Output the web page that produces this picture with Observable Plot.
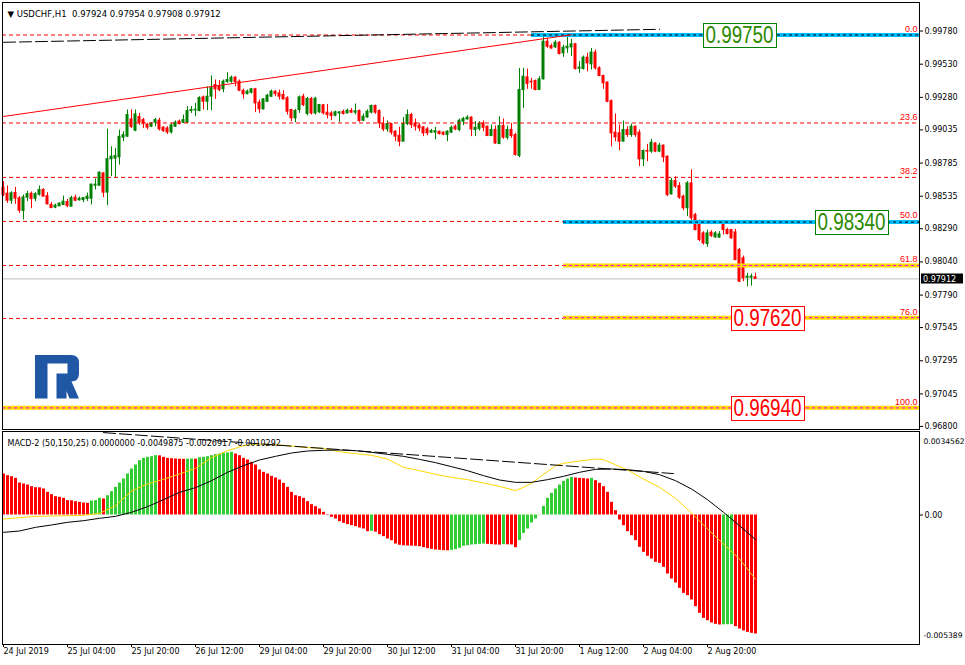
<!DOCTYPE html>
<html>
<head>
<meta charset="utf-8">
<script src="https://cdn.jsdelivr.net/npm/d3@7"></script>
<script src="https://cdn.jsdelivr.net/npm/@observablehq/plot@0.6"></script>
<style>
html, body { margin: 0; padding: 0; background: #fff; }
#wrap { position: relative; width: 965px; height: 665px; overflow: hidden; background: #fff; }
#main { position: absolute; left: 0; top: 0; }
#macd { position: absolute; left: 0; top: 430px; }
</style>
</head>
<body>
<div id="wrap"><div id="main"></div><div id="macd"></div></div>
<script>
// ---------- DATA ----------
const titleText = "▼ USDCHF,H1  0.97924 0.97954 0.97908 0.97912";
const macdTitle = "MACD-2 (50,150,25) 0.0000000 -0.0049875 -0.0026917 -0.0010292";

// hourly candles [open, high, low, close], 24 Jul 12:00 -> 5 Aug 08:00
const candles = [
[0.98599,0.98645,0.98532,0.98544],[0.98554,0.98612,0.98481,0.98501],[0.98501,0.98569,0.98474,0.98557],[0.98559,0.98602,0.98474,0.98516],
[0.98519,0.98532,0.98406,0.98426],[0.98423,0.98544,0.98356,0.98526],[0.98524,0.98572,0.98494,0.98551],[0.98554,0.98567,0.98441,0.98514],
[0.98516,0.98562,0.98494,0.98551],[0.98546,0.98612,0.98536,0.98582],[0.98582,0.98592,0.98529,0.98532],[0.98536,0.98562,0.98469,0.98474],
[0.98469,0.98489,0.98441,0.98446],[0.98449,0.98476,0.98441,0.98464],[0.98459,0.98486,0.98456,0.98479],[0.98469,0.98536,0.98466,0.98494],
[0.98491,0.98511,0.98449,0.98461],[0.98456,0.98536,0.98456,0.98521],[0.98524,0.98544,0.98494,0.98501],[0.98504,0.98529,0.98499,0.98516],
[0.98506,0.98526,0.98486,0.98521],[0.98514,0.98559,0.98496,0.98532],[0.98516,0.98627,0.98469,0.98622],[0.98614,0.98665,0.98582,0.98622],
[0.98614,0.98720,0.98612,0.98712],[0.98707,0.98712,0.98524,0.98562],[0.98562,0.99041,0.98464,0.98815],[0.98813,0.98908,0.98682,0.98833],
[0.98818,0.98896,0.98670,0.98838],[0.98828,0.99034,0.98770,0.98983],[0.98976,0.99021,0.98946,0.98996],[0.98984,0.99185,0.98979,0.99147],
[0.99114,0.99185,0.99046,0.99056],[0.99029,0.99185,0.99021,0.99152],[0.99132,0.99159,0.99069,0.99089],[0.99109,0.99122,0.99046,0.99079],
[0.99074,0.99084,0.99034,0.99052],[0.99059,0.99089,0.99052,0.99084],[0.99089,0.99122,0.99059,0.99109],[0.99104,0.99122,0.99026,0.99039],
[0.99052,0.99059,0.99016,0.99026],[0.99046,0.99059,0.99001,0.99016],[0.99016,0.99084,0.99004,0.99069],[0.99059,0.99102,0.99054,0.99089],
[0.99097,0.99109,0.99072,0.99079],[0.99089,0.99147,0.99084,0.99109],[0.99089,0.99210,0.99084,0.99177],[0.99177,0.99210,0.99159,0.99185],
[0.99182,0.99235,0.99134,0.99187],[0.99177,0.99285,0.99172,0.99275],[0.99280,0.99290,0.99185,0.99247],[0.99247,0.99360,0.99180,0.99285],
[0.99285,0.99441,0.99180,0.99350],[0.99373,0.99411,0.99265,0.99341],[0.99360,0.99406,0.99323,0.99335],[0.99341,0.99411,0.99315,0.99398],
[0.99396,0.99466,0.99386,0.99411],[0.99398,0.99441,0.99386,0.99428],[0.99428,0.99436,0.99360,0.99396],[0.99398,0.99411,0.99323,0.99330],
[0.99330,0.99341,0.99268,0.99303],[0.99305,0.99335,0.99298,0.99323],[0.99315,0.99348,0.99305,0.99341],[0.99341,0.99348,0.99165,0.99235],
[0.99240,0.99260,0.99159,0.99190],[0.99190,0.99270,0.99185,0.99265],[0.99247,0.99303,0.99242,0.99293],[0.99285,0.99335,0.99280,0.99323],
[0.99323,0.99330,0.99285,0.99305],[0.99310,0.99335,0.99260,0.99285],[0.99298,0.99330,0.99260,0.99265],[0.99273,0.99285,0.99147,0.99172],
[0.99185,0.99190,0.99097,0.99122],[0.99122,0.99190,0.99089,0.99177],[0.99185,0.99290,0.99159,0.99280],[0.99285,0.99303,0.99210,0.99222],
[0.99155,0.99280,0.99140,0.99268],[0.99268,0.99280,0.99147,0.99159],[0.99159,0.99280,0.99147,0.99270],[0.99167,0.99227,0.99159,0.99222],
[0.99220,0.99227,0.99147,0.99159],[0.99165,0.99227,0.99117,0.99147],[0.99159,0.99172,0.99104,0.99139],[0.99142,0.99177,0.99134,0.99167],
[0.99159,0.99172,0.99092,0.99167],[0.99170,0.99185,0.99147,0.99155],[0.99159,0.99192,0.99155,0.99180],[0.99177,0.99197,0.99159,0.99165],
[0.99165,0.99230,0.99147,0.99175],[0.99177,0.99185,0.99092,0.99102],[0.99104,0.99155,0.99097,0.99134],[0.99129,0.99185,0.99122,0.99172],
[0.99165,0.99222,0.99155,0.99215],[0.99215,0.99222,0.99152,0.99165],[0.99177,0.99185,0.99046,0.99084],[0.99079,0.99129,0.99021,0.99039],
[0.99039,0.99102,0.99016,0.99079],[0.99079,0.99084,0.98996,0.99014],[0.99021,0.99029,0.98946,0.98984],[0.98991,0.99054,0.98908,0.98946],
[0.98946,0.99129,0.98946,0.99079],[0.99079,0.99185,0.99067,0.99147],[0.99147,0.99160,0.99046,0.99072],[0.99084,0.99117,0.99026,0.99059],
[0.99067,0.99084,0.99021,0.99046],[0.99054,0.99059,0.98984,0.99009],[0.99039,0.99054,0.98991,0.99009],[0.99014,0.99039,0.99009,0.99026],
[0.99014,0.99054,0.98959,0.99026],[0.99021,0.99026,0.98996,0.99004],[0.99014,0.99019,0.98991,0.98999],[0.98996,0.99029,0.98946,0.99021],
[0.99014,0.99064,0.99009,0.99051],[0.99059,0.99072,0.99029,0.99039],[0.99034,0.99117,0.99021,0.99104],[0.99097,0.99129,0.99067,0.99117],
[0.99114,0.99142,0.99109,0.99127],[0.99127,0.99134,0.98984,0.99039],[0.99034,0.99097,0.98984,0.99051],[0.99041,0.99097,0.99026,0.99079],
[0.99084,0.99102,0.99021,0.99051],[0.99059,0.99064,0.98984,0.98989],[0.98989,0.99072,0.98984,0.99034],[0.99034,0.99064,0.98926,0.98933],
[0.98928,0.99134,0.98928,0.99064],[0.99064,0.99117,0.98964,0.98976],[0.98976,0.99064,0.98959,0.99034],[0.99034,0.99084,0.98971,0.98989],
[0.98996,0.99009,0.98838,0.98846],[0.98838,0.99498,0.98825,0.99335],[0.99335,0.99498,0.99197,0.99436],[0.99431,0.99493,0.99341,0.99381],
[0.99398,0.99423,0.99341,0.99393],[0.99403,0.99411,0.99330,0.99335],[0.99335,0.99436,0.99335,0.99416],[0.99416,0.99762,0.99411,0.99700],
[0.99700,0.99725,0.99649,0.99662],[0.99667,0.99682,0.99642,0.99649],[0.99657,0.99707,0.99649,0.99692],[0.99692,0.99700,0.99599,0.99607],
[0.99612,0.99674,0.99582,0.99654],[0.99649,0.99762,0.99612,0.99662],[0.99657,0.99717,0.99587,0.99680],[0.99680,0.99687,0.99486,0.99494],
[0.99496,0.99549,0.99461,0.99504],[0.99494,0.99592,0.99486,0.99579],[0.99579,0.99612,0.99473,0.99536],[0.99529,0.99649,0.99486,0.99617],
[0.99617,0.99637,0.99486,0.99499],[0.99499,0.99511,0.99436,0.99441],[0.99441,0.99448,0.99341,0.99386],[0.99391,0.99398,0.99240,0.99247],
[0.99252,0.99260,0.98908,0.99009],[0.99014,0.99155,0.98946,0.98979],[0.99009,0.99072,0.98878,0.98946],[0.98946,0.99102,0.98946,0.99034],
[0.99034,0.99059,0.98979,0.98996],[0.98996,0.99079,0.98979,0.99059],[0.99059,0.99064,0.98979,0.98996],[0.99014,0.99034,0.98758,0.98813],
[0.98813,0.98883,0.98758,0.98876],[0.98876,0.98926,0.98795,0.98871],[0.98871,0.98964,0.98858,0.98938],[0.98933,0.98938,0.98863,0.98871],
[0.98871,0.98934,0.98863,0.98916],[0.98916,0.98921,0.98788,0.98828],[0.98833,0.98838,0.98532,0.98544],[0.98549,0.98670,0.98544,0.98650],
[0.98650,0.98682,0.98594,0.98607],[0.98612,0.98637,0.98511,0.98524],[0.98532,0.98544,0.98426,0.98444],[0.98444,0.98645,0.98381,0.98632],
[0.98632,0.98733,0.98351,0.98368],[0.98393,0.98406,0.98275,0.98280],[0.98343,0.98356,0.98192,0.98205],[0.98255,0.98268,0.98167,0.98180],
[0.98175,0.98280,0.98150,0.98255],[0.98260,0.98275,0.98225,0.98235],[0.98225,0.98268,0.98218,0.98255],[0.98223,0.98268,0.98218,0.98248],
[0.98326,0.98351,0.98243,0.98280],[0.98280,0.98293,0.98243,0.98250],[0.98280,0.98285,0.98210,0.98218],[0.98263,0.98285,0.98049,0.98054],
[0.98130,0.98142,0.97884,0.97891],[0.98067,0.98084,0.97891,0.97916],[0.97921,0.97954,0.97853,0.97929],[0.97921,0.97949,0.97858,0.97929],
[0.97924,0.97954,0.97908,0.97912]
];

// MACD histogram, one value per candle
const histogram = [
0.001719,0.001649,0.001607,0.001537,0.001341,0.001299,0.001258,0.001188,0.001146,0.001140,
0.001090,0.000950,0.000852,0.000769,0.000741,0.000699,0.000601,0.000595,0.000559,0.000531,
0.000503,0.000489,0.000587,0.000601,0.000699,0.000671,0.000810,0.000978,0.001160,0.001341,
0.001509,0.001719,0.001928,0.002096,0.002278,0.002375,0.002417,0.002445,0.002487,0.002480,
0.002417,0.002375,0.002361,0.002347,0.002340,0.002333,0.002340,0.002347,0.002340,0.002403,
0.002417,0.002445,0.002487,0.002529,0.002557,0.002585,0.002599,0.002627,0.002557,0.002487,
0.002375,0.002306,0.002208,0.002096,0.001886,0.001789,0.001719,0.001621,0.001551,0.001467,
0.001327,0.001160,0.000950,0.000810,0.000769,0.000699,0.000559,0.000433,0.000349,0.000252,
0.000112,-0.000020,-0.000098,-0.000168,-0.000279,-0.000349,-0.000405,-0.000447,-0.000489,-0.000545,
-0.000587,-0.000700,-0.000685,-0.000720,-0.000824,-0.000908,-0.001006,-0.001076,-0.001216,-0.001270,
-0.001290,-0.001300,-0.001305,-0.001313,-0.001327,-0.001369,-0.001411,-0.001439,-0.001467,-0.001481,
-0.001495,-0.001500,-0.001481,-0.001453,-0.001397,-0.001313,-0.001286,-0.001258,-0.001244,-0.001230,
-0.001216,-0.001230,-0.001244,-0.001258,-0.001262,-0.001244,-0.001250,-0.001255,-0.001369,-0.001076,
-0.000769,-0.000587,-0.000335,-0.000168,0.000014,0.000363,0.000699,0.000908,0.001090,0.001258,
0.001411,0.001509,0.001579,0.001551,0.001537,0.001523,0.001509,0.001537,0.001439,0.001327,
0.001188,0.000950,0.000531,0.000182,-0.000210,-0.000447,-0.000699,-0.000866,-0.001076,-0.001355,
-0.001565,-0.001733,-0.001844,-0.001984,-0.002026,-0.002194,-0.002473,-0.002683,-0.002850,-0.003074,
-0.003284,-0.003381,-0.003563,-0.003843,-0.004122,-0.004332,-0.004430,-0.004527,-0.004583,-0.004611,
-0.004605,-0.004600,-0.004597,-0.004680,-0.004780,-0.004860,-0.004920,-0.004960,-0.0049875
];

// signal (yellow) line, read at these bars
const signalBars = [0,4,8,12,16,20,24,28,32,36,40,44,48,52,56,60,64,68,72,76,80,84,88,92,96,100,104,108,112,116,120,124,128,130,132,134,136,138,140,144,148,150,152,156,160,164,168,172,176,180,184,188];
const signalValues = [-0.000168,-0.000112,-0.000056,-0.000042,-0.000028,-0.000014,0.000070,0.000391,0.001006,0.001300,0.001495,0.001719,0.001956,0.002403,0.002697,0.002906,0.002976,0.002948,0.002892,0.002823,0.002795,0.002655,0.002571,0.002501,0.002347,0.001998,0.001858,0.001705,0.001579,0.001481,0.001341,0.001202,0.001020,0.001160,0.001327,0.001579,0.001817,0.002068,0.002166,0.002264,0.002347,0.002320,0.002180,0.001886,0.001509,0.001160,0.000699,0.000084,-0.000587,-0.001216,-0.001844,-0.0026917];

// slow (black) line, read every 4 bars
const slowBars = [0,4,8,12,16,20,24,28,32,36,40,44,48,52,56,60,64,68,72,76,80,84,88,92,96,100,104,108,112,116,120,124,128,132,136,140,144,148,152,156,160,164,168,172,176,180,184,188];
const slowValues = [-0.000727,-0.000671,-0.000517,-0.000419,-0.000307,-0.000238,-0.000140,-0.000056,0.000112,0.000349,0.000643,0.000950,0.001146,0.001439,0.001789,0.002068,0.002306,0.002459,0.002599,0.002683,0.002711,0.002725,0.002697,0.002627,0.002543,0.002459,0.002333,0.002194,0.002026,0.001858,0.001649,0.001467,0.001369,0.001369,0.001481,0.001621,0.001789,0.001914,0.001928,0.001900,0.001830,0.001691,0.001439,0.001090,0.000643,0.000112,-0.000447,-0.0010292];

// Fibonacci retracement levels
const fibRatios = ["0.0","23.6","38.2","50.0","61.8","76.0","100.0"];
const fibPrices = [0.99750,0.99087,0.98677,0.98345,0.98013,0.97614,0.96940];

// horizontal target / support levels
const levelPrices = [0.99750,0.98340,0.98013,0.97620,0.96940];
const levelStartBars = [132,140,140,140,null];
const levelKinds = ["blue","blue","yellow","yellow","yellow"];

// boxed price labels
const targetTexts = ["0.99750","0.98340","0.97620","0.96940"];
const targetPrices = [0.99750,0.98340,0.97620,0.96940];
const targetBars = [184,212,191,191];
const targetKinds = ["up","up","down","down"];

// trend lines
const redTrendBars = [0,142], redTrendPrices = [0.99136,0.99752];
const blackTrendBars = [0,164], blackTrendPrices = [0.99695,0.99793];
const macdTrendBars = [25,167.5], macdTrendValues = [0.003454,0.001736];

const currentPrice = 0.97912;
const priceTicks = [0.99780,0.99530,0.99280,0.99035,0.98785,0.98535,0.98290,0.98040,0.97790,0.97545,0.97295,0.97045,0.96800];
const macdTopLabel = "0.0034562", macdZeroLabel = "0.00", macdBottomLabel = "-0.005389";
const dateTickBars = [0,16,32,48,64,80,96,112,128,144,160,176];
const dateTickLabels = ["24 Jul 2019","25 Jul 04:00","25 Jul 20:00","26 Jul 12:00","29 Jul 04:00","29 Jul 20:00","30 Jul 12:00","31 Jul 04:00","31 Jul 20:00","1 Aug 12:00","2 Aug 04:00","2 Aug 20:00"];

// ---------- BUILD ----------
const BULL = "#008000", BEAR = "#ff0000";
const bars = candles.map(([o, h, l, c], i) => ({i, o, h, l, c, col: c >= o ? BULL : BEAR}));
const hist = histogram.map((v, i) => ({i, v, col: i > 0 && v > histogram[i - 1] ? "#32cd32" : "#ff0000"}));
const signal = signalBars.map((b, k) => ({b, v: signalValues[k]}));
const slow = slowBars.map((b, k) => ({b, v: slowValues[k]}));
const fibs = fibPrices.map((p, k) => ({p, t: fibRatios[k]}));
const xDomain = [-0.25, 229];
const levels = levelPrices.map((p, k) => ({
  p, x1: levelStartBars[k] == null ? xDomain[0] : levelStartBars[k], x2: xDomain[1],
  col: levelKinds[k] === "blue" ? "#00bfff" : "#ffd700",
  dash: levelKinds[k] === "blue" ? "#000000" : "#ff00ff"
}));
const targets = targetTexts.map((t, k) => ({t, p: targetPrices[k], b: targetBars[k],
  border: targetKinds[k] === "up" ? "#008000" : "#ff0000",
  fill: targetKinds[k] === "up" ? "#2a8a00" : "#ff0000"}));
const redTrend = redTrendBars.map((b, k) => ({b, p: redTrendPrices[k]}));
const blackTrend = blackTrendBars.map((b, k) => ({b, p: blackTrendPrices[k]}));
const macdTrend = macdTrendBars.map((b, k) => ({b, v: macdTrendValues[k]}));
const dateTicks = dateTickBars.map((b, k) => ({b, t: dateTickLabels[k]}));

const baseStyle = {fontFamily: "DejaVu Sans, sans-serif", fontSize: "8px", background: "white", color: "black"};

const main = Plot.plot({
  width: 965, height: 431,
  marginLeft: 2, marginRight: 46, marginTop: 2, marginBottom: 2,
  x: {domain: xDomain, range: [2, 919], axis: null, label: null},
  y: {domain: [0.96777, 0.99995], range: [429, 2], label: null},
  style: baseStyle,
  marks: [
    Plot.ruleY([currentPrice], {stroke: "#c0c0c0"}),
    Plot.ruleX(bars, {x: "i", y1: "l", y2: "h", stroke: "col", strokeWidth: 1}),
    Plot.rect(bars, {x1: d => d.i - 0.375, x2: d => d.i + 0.375, y1: "o", y2: "c", fill: "col", insetTop: -0.5, insetBottom: -0.5}),
    Plot.ruleY(fibs, {y: "p", stroke: "#ff0000", strokeDasharray: "4,3"}),
    Plot.ruleY(levels, {y: "p", x1: "x1", x2: "x2", stroke: "col", strokeWidth: 4}),
    Plot.ruleY(levels, {y: "p", x1: "x1", x2: "x2", stroke: "dash", strokeDasharray: "3,3"}),
    Plot.line(redTrend, {x: "b", y: "p", stroke: "#ff0000", strokeWidth: 1}),
    Plot.line(blackTrend, {x: "b", y: "p", stroke: "#000000", strokeWidth: 1, strokeDasharray: "12,4"}),
    Plot.text(fibs, {y: "p", text: "t", frameAnchor: "right", textAnchor: "end", lineAnchor: "bottom", dx: -2, dy: -3, fill: "#ff0000", fontFamily: "Liberation Sans, Arial, sans-serif", fontSize: 9}),
    Plot.axisY({anchor: "right", ticks: priceTicks, tickSize: 3, tickPadding: 2, tickFormat: d3.format(".5f"), label: null}),
    Plot.text([titleText], {frameAnchor: "top-left", textAnchor: "start", dx: 5, dy: 8, fontSize: 8.5}),
    (index, scales, values, dims) => {
      const g = d3.create("svg:g");
      for (const d of targets) {
        const cx = scales.x(d.b) + 0.5, cy = scales.y(d.p) + 0.5;
        g.append("rect").attr("x", Math.round(cx - 36.5) + 0.5).attr("y", Math.round(cy - 12) + 0.5)
          .attr("width", 73).attr("height", 24).attr("fill", "white").attr("stroke", d.border);
        g.append("text").attr("x", cx).attr("y", cy + 8.2).attr("text-anchor", "middle")
          .attr("font-family", "Liberation Sans Narrow, Liberation Sans, Arial, sans-serif").attr("font-size", 23)
          .attr("textLength", 68).attr("lengthAdjust", "spacingAndGlyphs").attr("fill", d.fill).text(d.t);
      }
      // current price tag on the axis
      const py = Math.round(scales.y(currentPrice));
      g.append("rect").attr("x", dims.width - dims.marginRight + 2).attr("y", py - 4.5).attr("width", 42).attr("height", 10).attr("fill", "black");
      g.append("text").attr("x", dims.width - dims.marginRight + 4).attr("y", py + 3.5).attr("text-anchor", "start")
        .attr("fill", "white").attr("font-size", 8).text(d3.format(".5f")(currentPrice));
      // logo
      g.append("path").attr("transform", `translate(${dims.marginLeft + 33},355)`)
        .attr("fill", "#1f57a4")
        .attr("d", "M0,0 H36 Q44,0 44,8 V18.5 Q44,26.5 36,26.5 H36.5 L44,43.5 H34.5 L31.5,36 V43.5 H21.5 V18.5 H32.5 V8.5 H12.5 V43.5 H0 Z");
      return g.node();
    },
    Plot.frame({stroke: "black"})
  ]
});
document.getElementById("main").append(main);

const macd = Plot.plot({
  width: 965, height: 235,
  marginLeft: 2, marginRight: 46, marginTop: 1, marginBottom: 21,
  x: {domain: xDomain, range: [2, 919], label: null},
  y: {domain: [-0.0054286, 0.0035003], range: [214, 1], label: null},
  style: baseStyle,
  marks: [
    Plot.ruleX(hist, {x: "i", y1: 0, y2: "v", stroke: "col", strokeWidth: 3}),
    Plot.line(signal, {x: "b", y: "v", stroke: "#ffd700", strokeWidth: 1}),
    Plot.line(slow, {x: "b", y: "v", stroke: "#000000", strokeWidth: 1}),
    Plot.line(macdTrend, {x: "b", y: "v", stroke: "#000000", strokeWidth: 1, strokeDasharray: "12,4"}),
    Plot.text([macdTitle], {frameAnchor: "top-left", textAnchor: "start", dx: 5, dy: 9}),
    Plot.axisY({anchor: "right", ticks: [0], tickSize: 3, tickPadding: 2, tickFormat: () => macdZeroLabel, label: null}),
    Plot.text([macdTopLabel], {frameAnchor: "top-right", textAnchor: "start", dx: 4, dy: 7, fontSize: 7.6}),
    Plot.text([macdBottomLabel], {frameAnchor: "bottom-right", textAnchor: "start", dx: 4, dy: -7, fontSize: 7.6}),
    Plot.axisX({ticks: dateTickBars, tickSize: 3, tickFormat: () => "", label: null}),
    Plot.text(dateTicks, {x: "b", text: "t", frameAnchor: "bottom", textAnchor: "start", dx: 0, dy: 9}),
    Plot.frame({stroke: "black"})
  ]
});
document.getElementById("macd").append(macd);
</script>
</body>
</html>
